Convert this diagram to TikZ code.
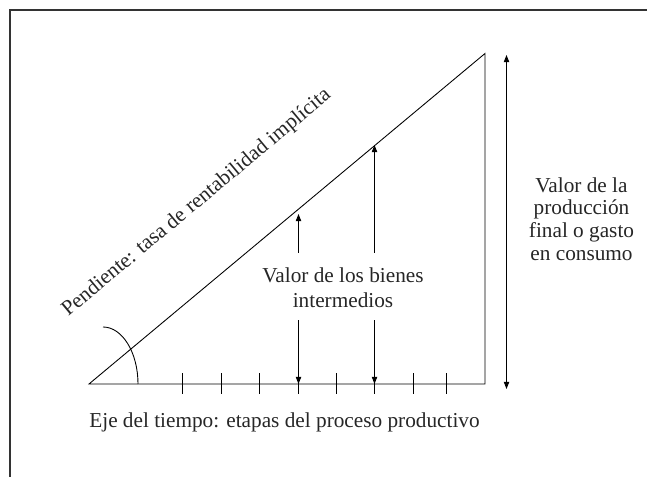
\documentclass[tikz,border=0pt]{standalone}
\usepackage{fontspec}
\setmainfont{Liberation Serif}
\usetikzlibrary{arrows.meta}

\begin{document}
\begin{tikzpicture}[every node/.style={inner sep=0pt, text=black!85, font=\fontsize{12.1}{13}\selectfont}, >={Triangle[length=4pt,width=3pt]}]
                \useasboundingbox (-1.78, -1.86) rectangle (11.16, 7.68);
                \draw[line width=0.8pt, black!80] (-1.58, -1.86) -- (-1.58, 7.48) -- (11.16, 7.48);

                \draw[line width=0.5pt] (0, 0) -- (7.92, 0) -- (7.92, 6.61) -- cycle;
                \foreach \x in {1.86, 2.64, 3.40, 4.18, 4.94, 5.71, 6.48, 7.14}
                    \draw[line width=0.5pt] (\x, -0.2) -- (\x, 0.22);

                \draw[line width=0.5pt] (0.28, 1.14) arc[start angle=90, end angle=0, x radius=0.7, y radius=1.14];

                \draw[line width=0.5pt, ->] (4.19, 2.62) -- (4.19, 3.40);
                \draw[line width=0.5pt, ->] (5.71, 2.62) -- (5.71, 4.78);
                \draw[line width=0.5pt, ->] (4.19, 1.27) -- (4.19, 0);
                \draw[line width=0.5pt, ->] (5.71, 1.27) -- (5.71, 0);
                \draw[line width=0.5pt, <->] (8.35, -0.1) -- (8.35, 6.58);

                \node[anchor=base west, rotate=39.85] (pendiente) at (-0.42, 1.34) {Pendiente: tasa de rentabilidad implícita};
                \node[align=center, font=\fontsize{12.1}{14.2}\selectfont] (bienes) at (5.08, 1.93) {Valor de los bienes\\intermedios};
                \node[align=center, font=\fontsize{12.1}{12.9}\selectfont] (valor) at (9.85, 3.3) {Valor de la\\producción\\final o gasto\\en consumo};
                \node[anchor=base west] (eje) at (0, -0.88) {Eje del tiempo: etapas del proceso productivo};

            \end{tikzpicture}
\end{document}
